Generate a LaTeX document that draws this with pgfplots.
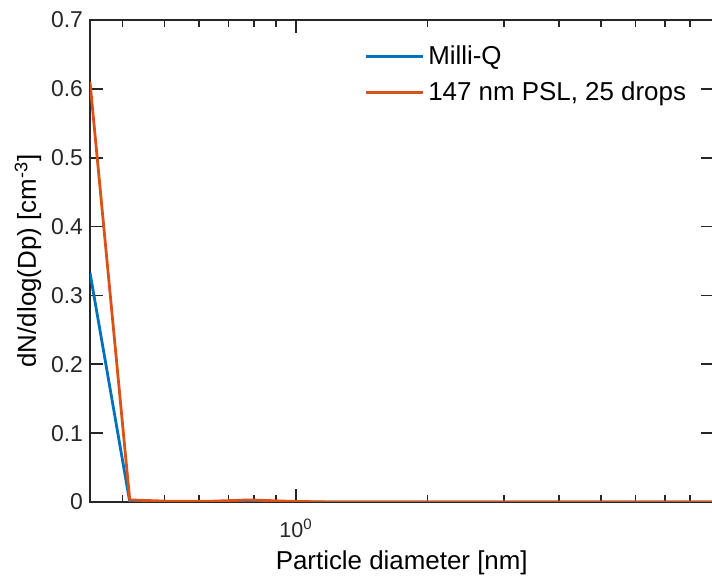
\documentclass[border=0pt]{standalone}
\usepackage{fontspec}
\setmainfont{Liberation Sans}
\usepackage{pgfplots}
\pgfplotsset{compat=1.18}
\definecolor{mblue}{rgb}{0,0.447,0.741}
\definecolor{morange}{rgb}{0.85,0.325,0.098}
\definecolor{axgray}{rgb}{0.15,0.15,0.15}
\pgfplotstableread{
x y
0.3372 0.333
0.4159 0.000
0.5133 0.000
0.6339 0.000
0.7826 0.001
0.9660 0.000
1.193 0.000
1.472 0.000
1.817 0.000
2.243 0.000
2.769 0.000
3.418 0.000
4.219 0.000
5.209 0.000
6.430 0.000
7.940 0.000
9.800 0.000
}\milliq
\pgfplotstableread{
x y
0.3372 0.610
0.4159 0.003
0.5133 0.001
0.6339 0.001
0.7826 0.003
0.9660 0.001
1.193 0.000
1.472 0.000
1.817 0.000
2.243 0.000
2.769 0.000
3.418 0.000
4.219 0.000
5.209 0.000
6.430 0.000
7.940 0.000
9.800 0.000
}\psl
\begin{document}
\begin{tikzpicture}
\begin{axis}[name=ax, scale only axis, width=311.75bp, height=241bp,
  xmode=log, xmin=0.3372, xmax=9.05, ymin=0, ymax=0.7,
  xtick={1}, xticklabels={10\textsuperscript{0}},
  minor xtick={0.4,0.5,0.6,0.7,0.8,0.9,2,3,4,5,6,7,8,9},
  ytick={0,0.1,0.2,0.3,0.4,0.5,0.6,0.7},
  yticklabels={0,0.1,0.2,0.3,0.4,0.5,0.6,0.7},
  tick align=inside, major tick length=6.5bp, minor tick length=3.5bp,
  every tick/.style={axgray, line width=0.8bp},
  axis line style={axgray, line width=1bp},
  font=\fontsize{13}{15}\selectfont,
  yticklabel style={font=\fontsize{11.5}{13}\selectfont, text=axgray},
  xticklabel style={font=\fontsize{10.8}{13}\selectfont, text=axgray, yshift=-5bp},
  label style={font=\fontsize{12.6}{15}\selectfont, text=axgray},
  every axis x label/.style={at={(axis description cs:0.5,0)}, anchor=center, yshift=-30.5bp},
  every axis y label/.style={at={(axis description cs:0,0.5)}, rotate=90, anchor=center, yshift=31bp},
  xlabel={Particle diameter [nm]},
  ylabel={dN/dlog(Dp) [cm\textsuperscript{-3}]},
  legend style={draw=none, fill=none, at={(0.43,0.9635)}, anchor=north west,
    font=\fontsize{13}{15}\selectfont, row sep=3bp},
  legend cell align=left,
  legend image code/.code={\draw[#1, line width=1.4bp] (0bp,0bp) -- (28.5bp,0bp);},
]
\addplot[mblue, line width=1.4bp] table {\milliq};
\addlegendentry{Milli-Q}
\addplot[morange, line width=1.4bp] table {\psl};
\addlegendentry{147 nm PSL, 25 drops}
\end{axis}
\pgfresetboundingbox
\path ([shift={(-45bp,-38.5bp)}]ax.south west) rectangle ([shift={(311bp,10bp)}]ax.north west);
\end{tikzpicture}
\end{document}
